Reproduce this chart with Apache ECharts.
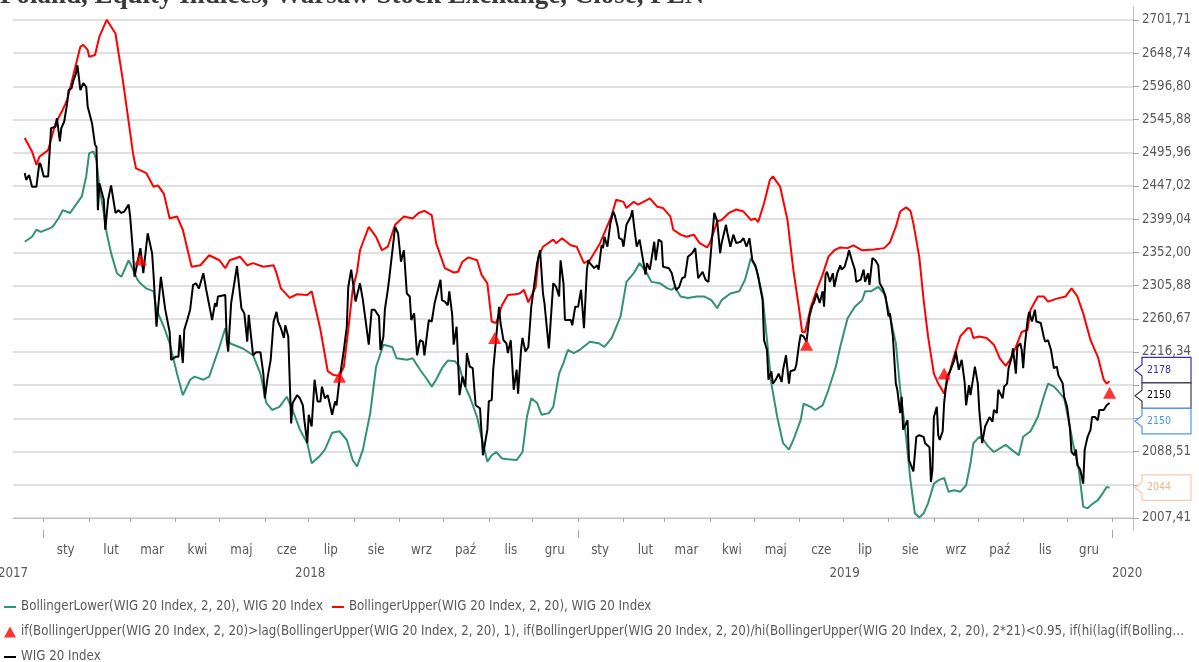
<!DOCTYPE html>
<html>
<head>
<meta charset="utf-8" />
<title>WIG 20 Index, Bollinger</title>
<script src="https://cdn.jsdelivr.net/npm/echarts@6/dist/echarts.min.js"></script>
<style>
    html, body { margin: 0; padding: 0; background: #fff; }
    #main { width: 1199px; height: 662px; }
</style>
</head>
<body>
<div id="main"></div>
<script type="text/javascript">
    // y axis is logarithmic, one gridline every 2% starting at 2007,41
    var yTickLabels = ['2007,41', '2047,56', '2088,51', '2130,28', '2172,89', '2216,34', '2260,67', '2305,88',
        '2352,00', '2399,04', '2447,02', '2495,96', '2545,88', '2596,80', '2648,74', '2701,71'];
    var monthNames = ['sty', 'lut', 'mar', 'kwi', 'maj', 'cze', 'lip', 'sie', 'wrz', 'paź', 'lis', 'gru'];
    var yearLabelDates = ['2017-12-11', '2018-07-02', '2019-07-02', '2020-01-11'];

    var lowerName = 'BollingerLower(WIG 20 Index, 2, 20), WIG 20 Index';
    var upperName = 'BollingerUpper(WIG 20 Index, 2, 20), WIG 20 Index';
    var signalName = 'if(BollingerUpper(WIG 20 Index, 2, 20)>lag(BollingerUpper(WIG 20 Index, 2, 20), 1), if(BollingerUpper(WIG 20 Index, 2, 20)/hi(BollingerUpper(WIG 20 Index, 2, 20), 2*21)<0.95, if(hi(lag(if(BollingerUpper(WIG 20 Index, 2, 20)>lag(BollingerUpper(WIG 20 Index, 2, 20), 1), 1, 0), 1), 5)=0, WIG 20 Index, NA), NA), NA)';
    var wigName = 'WIG 20 Index';

    var upperDates = ['2017-12-19','2017-12-24','2017-12-27','2017-12-29','2018-01-04','2018-01-09','2018-01-14','2018-01-17','2018-01-26','2018-01-28',
        '2018-01-31','2018-02-01','2018-02-05','2018-02-08','2018-02-13','2018-02-19','2018-02-24','2018-03-03','2018-03-05','2018-03-10',
        '2018-03-12','2018-03-17','2018-03-20','2018-03-24','2018-03-28','2018-04-02','2018-04-06','2018-04-12','2018-04-18','2018-04-24',
        '2018-05-01','2018-05-05','2018-05-08','2018-05-15','2018-05-20','2018-05-24','2018-05-31','2018-06-07','2018-06-09','2018-06-12',
        '2018-06-18','2018-06-23','2018-06-30','2018-07-03','2018-07-09','2018-07-14','2018-07-18','2018-07-22','2018-07-25','2018-07-28',
        '2018-07-31','2018-08-03','2018-08-05','2018-08-11','2018-08-16','2018-08-20','2018-08-24','2018-08-29','2018-09-04','2018-09-10',
        '2018-09-14','2018-09-18','2018-09-23','2018-09-26','2018-10-02','2018-10-08','2018-10-11','2018-10-14','2018-10-18','2018-10-24',
        '2018-10-27','2018-10-31','2018-11-03','2018-11-06','2018-11-10','2018-11-14','2018-11-19','2018-11-22','2018-11-25','2018-11-28',
        '2018-12-03','2018-12-05','2018-12-08','2018-12-15','2018-12-17','2018-12-21','2018-12-27','2018-12-31','2019-01-05','2019-01-09',
        '2019-01-16','2019-01-24','2019-01-27','2019-02-01','2019-02-03','2019-02-08','2019-02-11','2019-02-19','2019-02-24','2019-02-28',
        '2019-03-05','2019-03-07','2019-03-12','2019-03-16','2019-03-21','2019-03-25','2019-03-30','2019-04-01','2019-04-06','2019-04-09',
        '2019-04-14','2019-04-19','2019-04-24','2019-04-29','2019-05-02','2019-05-04','2019-05-08','2019-05-12','2019-05-14','2019-05-19',
        '2019-05-24','2019-05-28','2019-06-01','2019-06-03','2019-06-05','2019-06-09','2019-06-13','2019-06-17','2019-06-21','2019-06-25',
        '2019-06-29','2019-07-04','2019-07-08','2019-07-14','2019-07-22','2019-07-29','2019-08-02','2019-08-06','2019-08-09','2019-08-13',
        '2019-08-16','2019-08-18','2019-08-22','2019-08-25','2019-08-28','2019-09-01','2019-09-04','2019-09-08','2019-09-11','2019-09-14',
        '2019-09-19','2019-09-24','2019-09-26','2019-09-28','2019-10-02','2019-10-07','2019-10-12','2019-10-16','2019-10-20','2019-10-23',
        '2019-10-27','2019-10-31','2019-11-04','2019-11-06','2019-11-11','2019-11-15','2019-11-18','2019-11-24','2019-11-30','2019-12-04',
        '2019-12-08','2019-12-12','2019-12-17','2019-12-22','2019-12-26','2019-12-28','2019-12-30'];
    var upperBand = [2518,2498,2478,2490,2500,2540,2561,2576,2659,2662,
        2654,2643,2646,2675,2702,2680,2607,2495,2473,2468,
        2466,2446,2448,2436,2400,2403,2384,2332,2334,2348,
        2341,2330,2341,2346,2334,2337,2332,2334,2323,2302,
        2289,2294,2293,2298,2246,2191,2186,2185,2197,2246,
        2300,2325,2355,2388,2374,2355,2360,2391,2403,2400,
        2408,2411,2405,2365,2330,2324,2325,2339,2345,2341,
        2321,2309,2257,2255,2279,2293,2294,2295,2300,2283,
        2304,2346,2360,2370,2365,2372,2362,2360,2337,2341,
        2365,2405,2427,2424,2415,2424,2420,2429,2417,2415,
        2403,2384,2377,2374,2377,2365,2359,2365,2396,2398,
        2408,2413,2410,2398,2400,2395,2422,2456,2461,2446,
        2398,2328,2273,2243,2243,2277,2300,2321,2346,2355,
        2359,2358,2362,2355,2356,2358,2366,2388,2410,2416,
        2411,2393,2346,2286,2237,2188,2175,2162,2184,2206,
        2237,2248,2248,2235,2237,2235,2226,2208,2198,2206,
        2223,2243,2246,2273,2291,2291,2284,2288,2291,2302,
        2291,2268,2232,2210,2180,2175,2178];

    var lowerDates = ['2017-12-19','2017-12-24','2017-12-27','2017-12-30','2018-01-05','2018-01-07','2018-01-11','2018-01-14','2018-01-19','2018-01-23',
        '2018-01-27','2018-01-30','2018-02-01','2018-02-04','2018-02-06','2018-02-08','2018-02-11','2018-02-13','2018-02-16','2018-02-20',
        '2018-02-23','2018-02-28','2018-03-03','2018-03-06','2018-03-08','2018-03-12','2018-03-17','2018-03-19','2018-03-24','2018-03-28',
        '2018-04-02','2018-04-06','2018-04-11','2018-04-14','2018-04-20','2018-04-24','2018-05-01','2018-05-05','2018-05-08','2018-05-17',
        '2018-05-24','2018-05-29','2018-06-02','2018-06-06','2018-06-11','2018-06-16','2018-06-20','2018-06-25','2018-06-30','2018-07-03',
        '2018-07-08','2018-07-12','2018-07-17','2018-07-22','2018-07-27','2018-07-31','2018-08-03','2018-08-07','2018-08-12','2018-08-16',
        '2018-08-21','2018-08-27','2018-08-30','2018-09-06','2018-09-10','2018-09-15','2018-09-20','2018-09-23','2018-09-26','2018-09-30',
        '2018-10-04','2018-10-09','2018-10-12','2018-10-15','2018-10-19','2018-10-24','2018-10-27','2018-10-31','2018-11-03','2018-11-06',
        '2018-11-10','2018-11-14','2018-11-20','2018-11-24','2018-11-27','2018-11-30','2018-12-04','2018-12-07','2018-12-12','2018-12-15',
        '2018-12-19','2018-12-22','2018-12-25','2018-12-29','2019-01-02','2019-01-09','2019-01-15','2019-01-19','2019-01-24','2019-01-30',
        '2019-02-03','2019-02-08','2019-02-12','2019-02-17','2019-02-20','2019-02-26','2019-03-03','2019-03-06','2019-03-08','2019-03-12',
        '2019-03-17','2019-03-23','2019-03-28','2019-04-02','2019-04-06','2019-04-09','2019-04-15','2019-04-21','2019-04-25','2019-04-29',
        '2019-05-03','2019-05-07','2019-05-10','2019-05-13','2019-05-17','2019-05-21','2019-05-25','2019-05-28','2019-06-02','2019-06-04',
        '2019-06-09','2019-06-12','2019-06-17','2019-06-21','2019-06-26','2019-06-29','2019-07-04','2019-07-09','2019-07-14','2019-07-16',
        '2019-07-20','2019-07-25','2019-07-29','2019-08-01','2019-08-06','2019-08-09','2019-08-13','2019-08-16','2019-08-19','2019-08-22',
        '2019-08-25','2019-08-28','2019-09-01','2019-09-04','2019-09-08','2019-09-11','2019-09-15','2019-09-19','2019-09-23','2019-09-26',
        '2019-09-28','2019-10-02','2019-10-05','2019-10-08','2019-10-12','2019-10-20','2019-10-24','2019-10-29','2019-11-01','2019-11-06',
        '2019-11-11','2019-11-15','2019-11-18','2019-11-22','2019-11-25','2019-11-29','2019-12-02','2019-12-05','2019-12-09','2019-12-12',
        '2019-12-15','2019-12-18','2019-12-22','2019-12-26','2019-12-28','2019-12-30'];
    var lowerBand = [2367,2374,2384,2381,2386,2388,2400,2412,2408,2420,
        2432,2461,2495,2498,2485,2446,2408,2379,2351,2323,
        2318,2341,2328,2314,2309,2302,2298,2273,2250,2228,
        2188,2160,2180,2184,2180,2184,2223,2248,2228,2221,
        2212,2188,2150,2141,2145,2158,2141,2116,2099,2074,
        2082,2091,2112,2114,2103,2078,2070,2091,2137,2197,
        2226,2223,2208,2206,2208,2193,2180,2171,2180,2195,
        2205,2204,2197,2175,2158,2132,2107,2076,2084,2088,
        2080,2079,2078,2088,2132,2156,2150,2135,2137,2145,
        2188,2202,2219,2215,2219,2230,2228,2223,2235,2264,
        2311,2323,2337,2323,2311,2309,2302,2300,2304,2291,
        2289,2291,2291,2286,2275,2286,2295,2298,2314,2344,
        2328,2291,2232,2175,2132,2099,2091,2103,2128,2149,
        2145,2141,2147,2167,2197,2223,2261,2277,2286,2298,
        2298,2304,2295,2273,2228,2167,2107,2053,2013,2008,
        2013,2025,2049,2053,2056,2039,2041,2039,2047,2074,
        2099,2107,2103,2095,2088,2097,2091,2084,2107,2114,
        2132,2158,2175,2171,2165,2156,2128,2099,2066,2021,
        2019,2024,2029,2039,2045,2044];

    var wigDates = ['2017-12-19','2017-12-20','2017-12-22','2017-12-24','2017-12-27','2017-12-29','2017-12-30','2018-01-01','2018-01-04','2018-01-05',
        '2018-01-06','2018-01-09','2018-01-10','2018-01-12','2018-01-13','2018-01-15','2018-01-17','2018-01-18','2018-01-20','2018-01-21',
        '2018-01-23','2018-01-24','2018-01-26','2018-01-28','2018-01-30','2018-01-31','2018-02-03','2018-02-05','2018-02-06','2018-02-07',
        '2018-02-08','2018-02-11','2018-02-12','2018-02-14','2018-02-16','2018-02-19','2018-02-21','2018-02-23','2018-02-25','2018-02-28',
        '2018-03-01','2018-03-03','2018-03-04','2018-03-08','2018-03-10','2018-03-13','2018-03-16','2018-03-17','2018-03-19','2018-03-22',
        '2018-03-25','2018-03-28','2018-03-29','2018-04-01','2018-04-03','2018-04-04','2018-04-06','2018-04-07','2018-04-09','2018-04-11',
        '2018-04-12','2018-04-13','2018-04-15','2018-04-17','2018-04-20','2018-04-22','2018-04-26','2018-04-28','2018-04-29','2018-04-30',
        '2018-05-05','2018-05-06','2018-05-07','2018-05-09','2018-05-13','2018-05-16','2018-05-18','2018-05-20','2018-05-21','2018-05-24',
        '2018-05-26','2018-05-29','2018-05-31','2018-06-01','2018-06-03','2018-06-05','2018-06-07','2018-06-09','2018-06-10','2018-06-12',
        '2018-06-14','2018-06-15','2018-06-17','2018-06-19','2018-06-20','2018-06-23','2018-06-25','2018-06-27','2018-06-28','2018-06-30',
        '2018-07-01','2018-07-03','2018-07-05','2018-07-07','2018-07-09','2018-07-10','2018-07-12','2018-07-14','2018-07-17','2018-07-19',
        '2018-07-20','2018-07-22','2018-07-25','2018-07-27','2018-07-28','2018-07-30','2018-08-02','2018-08-05','2018-08-07','2018-08-11',
        '2018-08-13','2018-08-15','2018-08-18','2018-08-19','2018-08-21','2018-08-22','2018-08-24','2018-08-25','2018-08-29','2018-08-31',
        '2018-09-02','2018-09-04','2018-09-06','2018-09-08','2018-09-09','2018-09-11','2018-09-13','2018-09-15','2018-09-17','2018-09-18',
        '2018-09-21','2018-09-23','2018-09-25','2018-09-29','2018-09-30','2018-10-02','2018-10-04','2018-10-05','2018-10-07','2018-10-08',
        '2018-10-10','2018-10-12','2018-10-14','2018-10-16','2018-10-17','2018-10-19','2018-10-21','2018-10-23','2018-10-26','2018-10-28',
        '2018-10-31','2018-11-01','2018-11-03','2018-11-04','2018-11-06','2018-11-08','2018-11-09','2018-11-11','2018-11-13','2018-11-14',
        '2018-11-16','2018-11-18','2018-11-20','2018-11-21','2018-11-23','2018-11-24','2018-11-26','2018-11-28','2018-11-30','2018-12-04',
        '2018-12-06','2018-12-08','2018-12-09','2018-12-11','2018-12-12','2018-12-15','2018-12-17','2018-12-19','2018-12-20','2018-12-22',
        '2018-12-23','2018-12-27','2018-12-28','2018-12-30','2019-01-01','2019-01-03','2019-01-05','2019-01-07','2019-01-08','2019-01-09',
        '2019-01-12','2019-01-14','2019-01-15','2019-01-17','2019-01-18','2019-01-19','2019-01-21','2019-01-23','2019-01-25','2019-01-26',
        '2019-01-28','2019-01-29','2019-01-31','2019-02-01','2019-02-03','2019-02-06','2019-02-07','2019-02-08','2019-02-10','2019-02-12',
        '2019-02-16','2019-02-17','2019-02-19','2019-02-22','2019-02-23','2019-02-25','2019-02-27','2019-02-28','2019-03-04','2019-03-06',
        '2019-03-07','2019-03-09','2019-03-11','2019-03-13','2019-03-15','2019-03-17','2019-03-20','2019-03-22','2019-03-24','2019-03-25',
        '2019-03-27','2019-03-29','2019-03-31','2019-04-02','2019-04-04','2019-04-06','2019-04-08','2019-04-09','2019-04-12','2019-04-13',
        '2019-04-15','2019-04-17','2019-04-19','2019-04-22','2019-04-24','2019-04-26','2019-04-28','2019-04-30','2019-05-02','2019-05-04',
        '2019-05-07','2019-05-08','2019-05-10','2019-05-11','2019-05-13','2019-05-14','2019-05-16','2019-05-18','2019-05-20','2019-05-21',
        '2019-05-23','2019-05-25','2019-05-26','2019-05-29','2019-05-30','2019-06-01','2019-06-02','2019-06-04','2019-06-06','2019-06-08',
        '2019-06-10','2019-06-11','2019-06-13','2019-06-15','2019-06-17','2019-06-18','2019-06-19','2019-06-20','2019-06-22','2019-06-24',
        '2019-06-25','2019-06-27','2019-06-29','2019-06-30','2019-07-02','2019-07-04','2019-07-05','2019-07-07','2019-07-09','2019-07-10',
        '2019-07-13','2019-07-15','2019-07-16','2019-07-18','2019-07-19','2019-07-21','2019-07-23','2019-07-25','2019-07-26','2019-07-28',
        '2019-07-30','2019-08-01','2019-08-02','2019-08-04','2019-08-06','2019-08-07','2019-08-09','2019-08-10','2019-08-11','2019-08-14',
        '2019-08-15','2019-08-16','2019-08-18','2019-08-20','2019-08-22','2019-08-25','2019-08-26','2019-08-29','2019-08-30','2019-08-31',
        '2019-09-01','2019-09-03','2019-09-04','2019-09-05','2019-09-07','2019-09-08','2019-09-10','2019-09-12','2019-09-13','2019-09-15',
        '2019-09-16','2019-09-18','2019-09-20','2019-09-22','2019-09-23','2019-09-25','2019-09-26','2019-09-28','2019-09-29','2019-10-01',
        '2019-10-02','2019-10-04','2019-10-06','2019-10-07','2019-10-09','2019-10-11','2019-10-12','2019-10-14','2019-10-15','2019-10-18',
        '2019-10-19','2019-10-21','2019-10-22','2019-10-24','2019-10-25','2019-10-27','2019-10-28','2019-10-30','2019-10-31','2019-11-01',
        '2019-11-02','2019-11-04','2019-11-05','2019-11-07','2019-11-09','2019-11-10','2019-11-13','2019-11-15','2019-11-16','2019-11-18',
        '2019-11-20','2019-11-22','2019-11-24','2019-11-25','2019-11-28','2019-11-29','2019-12-01','2019-12-03','2019-12-04','2019-12-06',
        '2019-12-07','2019-12-08','2019-12-10','2019-12-12','2019-12-13','2019-12-15','2019-12-17','2019-12-18','2019-12-20','2019-12-22',
        '2019-12-23','2019-12-26','2019-12-28','2019-12-30'];
    var wigClose = [2466,2456,2463,2446,2446,2481,2478,2461,2461,2463,
        2533,2535,2548,2513,2533,2543,2571,2591,2594,2604,
        2617,2630,2591,2602,2596,2566,2540,2508,2505,2412,
        2451,2427,2384,2427,2448,2408,2412,2408,2410,2420,
        2403,2351,2318,2358,2323,2379,2351,2321,2250,2318,
        2273,2243,2206,2210,2210,2239,2202,2246,2259,2273,
        2275,2307,2309,2302,2323,2300,2259,2282,2277,2291,
        2293,2232,2217,2282,2333,2275,2268,2230,2266,2212,
        2216,2216,2188,2156,2184,2206,2257,2270,2257,2248,
        2235,2252,2237,2124,2150,2160,2156,2147,2128,2099,
        2135,2120,2180,2152,2152,2171,2156,2160,2135,2152,
        2147,2180,2219,2250,2304,2328,2284,2309,2286,2226,
        2273,2273,2264,2219,2237,2273,2300,2316,2388,2379,
        2339,2355,2295,2291,2259,2268,2212,2232,2230,2212,
        2259,2257,2282,2314,2286,2284,2279,2298,2266,2226,
        2250,2160,2184,2171,2215,2197,2195,2147,2143,2084,
        2116,2152,2154,2193,2235,2277,2255,2232,2228,2215,
        2232,2167,2193,2162,2219,2235,2217,2223,2277,2337,
        2355,2295,2282,2241,2221,2309,2304,2291,2341,2309,
        2259,2259,2252,2277,2277,2300,2248,2328,2341,2337,
        2330,2334,2328,2362,2358,2374,2360,2393,2410,2405,
        2388,2372,2370,2360,2391,2403,2412,2393,2360,2370,
        2321,2337,2328,2367,2341,2370,2367,2332,2330,2323,
        2314,2300,2304,2316,2318,2346,2351,2358,2316,2314,
        2325,2314,2311,2360,2408,2396,2351,2365,2391,2379,
        2360,2377,2365,2367,2372,2360,2372,2341,2334,2318,
        2286,2232,2219,2180,2191,2175,2180,2188,2177,2193,
        2212,2175,2191,2193,2199,2228,2239,2237,2230,2264,
        2279,2282,2295,2282,2298,2277,2321,2325,2311,2323,
        2304,2323,2334,2328,2332,2346,2355,2341,2328,2311,
        2314,2328,2311,2323,2307,2344,2341,2334,2309,2302,
        2291,2264,2268,2237,2175,2167,2137,2158,2116,2128,
        2078,2076,2064,2107,2109,2107,2099,2094,2051,2066,
        2132,2145,2109,2103,2114,2150,2184,2191,2193,2206,
        2217,2193,2206,2177,2147,2173,2160,2184,2197,2175,
        2141,2099,2120,2122,2132,2126,2141,2137,2167,2156,
        2171,2175,2195,2208,2221,2188,2223,2228,2219,2195,
        2223,2259,2270,2257,2273,2257,2255,2237,2230,2232,
        2219,2195,2197,2186,2175,2158,2145,2116,2088,2084,
        2091,2072,2066,2049,2091,2107,2116,2132,2132,2128,
        2141,2141,2147,2150];

    var signalDates = ['2018-03-08', '2018-07-22', '2018-11-05', '2019-06-06', '2019-09-08', '2019-12-30'];
    var signalValues = [2342, 2184, 2235, 2226, 2188, 2163];

    // last-value tags on the right edge, top to bottom
    var tagValues = [2178, 2150, 2150, 2044];
    var tagColors = ['#3b2bb5', '#000000', '#4a98f7', '#f4b183'];
    var tagBorders = ['#3b2bb5', '#404040', '#4a98f7', '#f8cbad'];

    var FONT = '"Liberation Sans Narrow", "DejaVu Sans Condensed", "Open Sans", sans-serif';
    var FS = 13.2;
    var GRAY = '#595959';
    var BASE = 2007.41;
    // a short 2px dash inside a 12x11 box, for the line items of the legend
    var LINE_ICON = 'path://M0,0h0.01v0.01h-0.01z M0,4.5h12v2h-12z M11.99,10.99h0.01v0.01h-0.01z';

    function day(s) {
        var p = s.split('-');
        return new Date(+p[0], +p[1] - 1, +p[2]).getTime();
    }
    function toAxis(v) { return Math.log(v / BASE) / Math.log(1.02); }
    function pairs(dates, values) {
        return dates.map(function (d, i) { return [day(d), toAxis(values[i])]; });
    }

    var monthTicks = [], monthLabels = [], yearTicks = [];
    [2018, 2019].forEach(function (y) {
        for (var m = 0; m < 12; m++) {
            monthTicks.push(new Date(y, m, 1).getTime());
            monthLabels.push(new Date(y, m, 16).getTime());
        }
        yearTicks.push(new Date(y, 0, 1).getTime());
    });
    monthTicks.push(new Date(2020, 0, 1).getTime());
    yearTicks.push(new Date(2020, 0, 1).getTime());

    var xMin = day('2017-12-11');
    var xMax = day('2020-01-15');
    var yTicks = yTickLabels.map(function (t, i) { return i; });

    var myChart = echarts.init(document.getElementById('main'));
    var option = {
        animation: false,
        title: {
            text: 'Poland, Equity Indices, Warsaw Stock Exchange, Close, PLN',
            left: 0,
            top: -17,
            padding: 0,
            textStyle: { fontFamily: '"Liberation Serif", "Times New Roman", serif', fontWeight: 'bold', fontSize: 27, color: '#3a3a3a' }
        },
        grid: { left: 13, right: 66, top: 7, bottom: 132, outerBoundsMode: 'none', containLabel: false },
        legend: {
            left: 4,
            top: 599,
            padding: 0,
            width: 1190,
            itemGap: 9,
            itemWidth: 12,
            itemHeight: 11,
            textStyle: { fontFamily: FONT, fontSize: FS, color: GRAY, lineHeight: 16 },
            data: [
                { name: lowerName, icon: LINE_ICON },
                { name: upperName, icon: LINE_ICON },
                { name: signalName, icon: 'triangle', textStyle: { width: 1166, overflow: 'truncate', ellipsis: '…' } },
                { name: wigName, icon: LINE_ICON }
            ]
        },
        xAxis: [
            {
                type: 'value',
                min: xMin,
                max: xMax,
                axisLine: { lineStyle: { color: '#bfbfbf', width: 1 } },
                axisTick: { customValues: monthTicks, length: 4, lineStyle: { color: '#a6a6a6' } },
                axisLabel: {
                    customValues: monthLabels,
                    margin: 14,
                    fontFamily: FONT, fontSize: FS, color: GRAY,
                    formatter: function (v) { return monthNames[new Date(v).getMonth()]; }
                },
                splitLine: { show: false }
            },
            {
                type: 'value',
                min: xMin,
                max: xMax,
                position: 'bottom',
                axisLine: { show: false },
                axisTick: { customValues: yearTicks, length: 8, lineStyle: { color: '#a6a6a6' } },
                axisLabel: {
                    customValues: yearLabelDates.map(day),
                    margin: 37,
                    fontFamily: FONT, fontSize: FS, color: GRAY,
                    formatter: function (v) { return String(new Date(v).getFullYear()); }
                },
                splitLine: { show: false }
            }
        ],
        yAxis: {
            type: 'value',
            position: 'right',
            min: -12 / 33.2,
            max: 15 + 13 / 33.2,
            axisLine: { show: true, lineStyle: { color: '#bfbfbf', width: 1 } },
            axisTick: { show: true, customValues: yTicks, length: 6, lineStyle: { color: '#a6a6a6' } },
            axisLabel: {
                customValues: yTicks,
                margin: 9,
                fontFamily: FONT, fontSize: FS, color: GRAY,
                formatter: function (v) { return yTickLabels[Math.round(v)]; }
            },
            splitLine: { show: true, lineStyle: { color: '#d6d6d6', width: 1.5 } }
        },
        series: [
            {
                name: lowerName,
                type: 'line',
                symbol: 'none',
                data: pairs(lowerDates, lowerBand),
                lineStyle: { color: '#33936f', width: 2 },
                itemStyle: { color: '#33936f' }
            },
            {
                name: upperName,
                type: 'line',
                symbol: 'none',
                data: pairs(upperDates, upperBand),
                lineStyle: { color: '#ff0000', width: 2 },
                itemStyle: { color: '#ff0000' }
            },
            {
                name: wigName,
                type: 'line',
                symbol: 'none',
                data: pairs(wigDates, wigClose),
                lineStyle: { color: '#000000', width: 2 },
                itemStyle: { color: '#000000' }
            },
            {
                name: signalName,
                type: 'scatter',
                symbol: 'triangle',
                symbolSize: [13, 12],
                z: 5,
                data: pairs(signalDates, signalValues),
                itemStyle: { color: '#ff0000' }
            }
        ]
    };
    myChart.setOption(option);

    // spread overlapping tags around the mean of their wanted positions
    function layoutTags(wanted, h) {
        var groups = wanted.map(function (y, i) { return { from: i, to: i, sum: y }; });
        var merged = true;
        while (merged) {
            merged = false;
            for (var g = 0; g < groups.length - 1; g++) {
                var a = groups[g], b = groups[g + 1];
                var na = a.to - a.from + 1, nb = b.to - b.from + 1;
                if (a.sum / na + na * h / 2 > b.sum / nb - nb * h / 2) {
                    groups.splice(g, 2, { from: a.from, to: b.to, sum: a.sum + b.sum });
                    merged = true;
                    break;
                }
            }
        }
        var pos = [];
        groups.forEach(function (g) {
            var n = g.to - g.from + 1, c = g.sum / n;
            for (var i = 0; i < n; i++) pos[g.from + i] = c + (i - (n - 1) / 2) * h;
        });
        return pos;
    }

    var H = 25.5, x0 = 1142, x1 = 1191, xt = 1135;
    var wanted = tagValues.map(function (v) { return myChart.convertToPixel({ yAxisIndex: 0 }, toAxis(v)); });
    var tagY = layoutTags(wanted, H);
    var elements = [];
    tagValues.forEach(function (v, i) {
        var y = tagY[i];
        elements.push({
            type: 'polygon',
            z: 100,
            shape: { points: [[x0, y - H / 2], [x1, y - H / 2], [x1, y + H / 2], [x0, y + H / 2], [x0, y + 5.5], [xt, y], [x0, y - 5.5]] },
            style: { fill: '#ffffff', stroke: tagBorders[i], lineWidth: 1.2 }
        });
        elements.push({
            type: 'text',
            z: 101,
            x: x0 + 5,
            y: y,
            style: { text: String(v), fill: tagColors[i], font: '10.5px ' + FONT, verticalAlign: 'middle' }
        });
    });
    myChart.setOption({ graphic: elements });
</script>
</body>
</html>
